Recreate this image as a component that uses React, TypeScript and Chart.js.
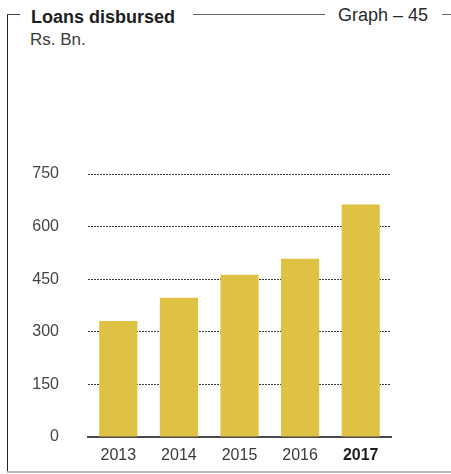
import React, { useEffect, useRef } from "react";
import { Chart, registerables } from "chart.js";

Chart.register(...registerables);

const categories = ["2013", "2014", "2015", "2016", "2017"];
const loansDisbursed = [331, 397, 463, 508, 663];
const yTicks = [0, 150, 300, 450, 600, 750];

const FONT = "'Liberation Sans', Arial, Helvetica, sans-serif";

export default function App() {
  const canvasRef = useRef<HTMLCanvasElement | null>(null);

  useEffect(() => {
    if (!canvasRef.current) return;
    const chart = new Chart(canvasRef.current, {
      type: "bar",
      data: {
        labels: categories,
        datasets: [
          {
            data: loansDisbursed,
            backgroundColor: "#DFC244",
            borderWidth: 0,
            barPercentage: 0.63,
            categoryPercentage: 1,
          },
        ],
      },
      options: {
        animation: false,
        responsive: true,
        maintainAspectRatio: false,
        devicePixelRatio: 1,
        layout: { padding: { left: 0, right: 60, top: 24, bottom: 0 } },
        plugins: { legend: { display: false }, tooltip: { enabled: false } },
        scales: {
          x: {
            grid: { display: false },
            border: { display: true, color: "#4a4a4a", width: 2 },
            ticks: {
              padding: 1,
              color: (ctx: any) => (ctx.index === 4 ? "#1e1e1e" : "#3a3a3a"),
              font: (ctx: any) => ({
                family: FONT,
                size: 16,
                weight: ctx.index === 4 ? "bold" : "normal",
              }),
            },
            afterFit: (scale: any) => {
              scale.height = 30;
            },
          },
          y: {
            min: 0,
            max: 750,
            afterBuildTicks: (scale: any) => {
              scale.ticks = yTicks.map((v) => ({ value: v }));
            },
            grid: {
              drawTicks: false,
              color: (ctx: any) => (ctx.tick && ctx.tick.value === 0 ? "rgba(0,0,0,0)" : "#3a3a3a"),
              lineWidth: 1,
            },
            border: { display: false, dash: [2, 1] },
            ticks: {
              padding: 29,
              color: "#444",
              font: { family: FONT, size: 16 },
            },
            afterFit: (scale: any) => {
              scale.width = 88;
              scale.paddingTop = 10;
              scale.paddingBottom = 10;
            },
          },
        },
      },
    });
    return () => chart.destroy();
  }, []);

  const text = (style: React.CSSProperties) => ({
    position: "absolute" as const,
    fontFamily: FONT,
    whiteSpace: "nowrap" as const,
    ...style,
  });

  return (
    <div
      style={{
        position: "absolute",
        left: 0,
        top: 0,
        width: 451,
        height: 474,
        background: "#fff",
        overflow: "hidden",
      }}
    >
      <div style={{ position: "absolute", left: 7, top: 14, width: 1, height: 459, background: "#222" }} />
      <div style={{ position: "absolute", left: 7, top: 14, width: 13, height: 1, background: "#444" }} />
      <div style={{ position: "absolute", left: 193, top: 14, width: 132, height: 1, background: "#666" }} />
      <div style={{ position: "absolute", left: 442, top: 14, width: 9, height: 1, background: "#666" }} />
      <div style={{ position: "absolute", left: 7, top: 471, width: 444, height: 2, background: "#bbb" }} />
      <div style={text({ left: 31, top: 8, fontSize: 18, lineHeight: "18px", fontWeight: "bold", color: "#1e1e1e" })}>
        Loans disbursed
      </div>
      <div style={text({ left: 338, top: 6, fontSize: 18, lineHeight: "18px", color: "#2a2a2a" })}>
        Graph – 45
      </div>
      <div style={text({ left: 30, top: 31, fontSize: 17, lineHeight: "17px", color: "#3a3a3a" })}>
        Rs. Bn.
      </div>
      <div style={{ position: "absolute", left: 0, top: 150, width: 451, height: 317 }}>
        <canvas ref={canvasRef} />
      </div>
    </div>
  );
}
